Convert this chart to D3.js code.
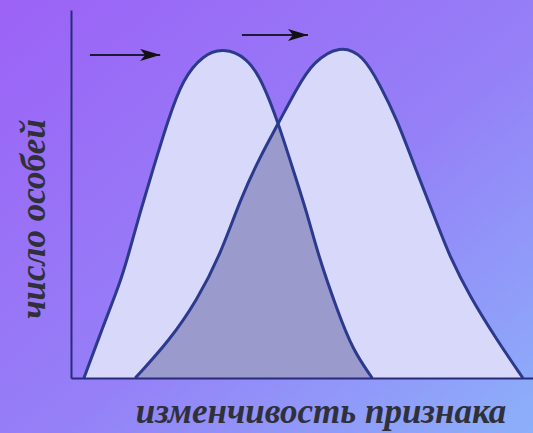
<!DOCTYPE html>
<html>
<head>
<meta charset="utf-8">
<script src="https://cdn.jsdelivr.net/npm/d3@7"></script>
<style>
  html, body { margin: 0; padding: 0; background: #9a70f7; }
  svg { display: block; }
</style>
</head>
<body>
<script>
// Two trait distributions: the original population and the shifted one.
const curveBefore = [
  [2.8, 0], [6.9, 13.9], [10.6, 25.8], [12.3, 32.9], [14.9, 44.8], [17.7, 56.5],
  [21.0, 70.1], [24.2, 81.3], [28.6, 87.8], [32.9, 89.7], [38.1, 87.2], [41.6, 80.2],
  [45.0, 68.8], [48.1, 56.5], [51.1, 44.8], [53.5, 33.4], [57.6, 18.5], [61.0, 7.6], [65.2, 0]
];
const curveAfter = [
  [13.9, 0], [21.4, 10.3], [27.3, 21.2], [32.3, 33.4], [36.6, 48.4], [40.9, 60.1],
  [44.8, 69.0], [48.9, 78.8], [52.4, 85.9], [58.2, 90.5], [63.2, 87.8], [66.9, 79.6],
  [70.6, 70.1], [74.0, 58.7], [79.2, 42.1], [82.0, 32.9], [86.4, 22.0], [92.2, 10.3], [97.8, 0]
];
// Shift arrows: [xFrom, xTo, y]
const shiftArrows = [
  [4.1, 19.3, 87.8],
  [37.0, 51.3, 93.2]
];
const xLabel = "изменчивость признака";
const yLabel = "число особей";

const W = 533, H = 433;
const svg = d3.select("body").append("svg").attr("width", W).attr("height", H);
const defs = svg.append("defs");

const bg = defs.append("linearGradient").attr("id", "bg")
  .attr("x1", 0).attr("y1", 0).attr("x2", 1).attr("y2", 1);
bg.append("stop").attr("offset", "0%").attr("stop-color", "#9c62f6");
bg.append("stop").attr("offset", "55%").attr("stop-color", "#9580f7");
bg.append("stop").attr("offset", "100%").attr("stop-color", "#8cb0fa");
svg.append("rect").attr("width", W).attr("height", H).attr("fill", "url(#bg)");

const x = d3.scaleLinear().domain([0, 100]).range([71, 533]);
const y = d3.scaleLinear().domain([0, 100]).range([378, 10]);

// B-spline through the sampled outline gives the smooth bell shape
const smooth = d3.curveBasis;
const area = d3.area().x(d => x(d[0])).y0(y(0)).y1(d => y(d[1])).curve(smooth);
const line = d3.line().x(d => x(d[0])).y(d => y(d[1])).curve(smooth);

// Overlap is the "after" area clipped by the "before" area
defs.append("clipPath").attr("id", "clipBefore")
  .append("path").attr("d", area(curveBefore));

const lightFill = "#d8d8fb";
svg.append("path").attr("d", area(curveBefore)).attr("fill", lightFill);
svg.append("path").attr("d", area(curveAfter)).attr("fill", lightFill);
svg.append("path").attr("d", area(curveAfter)).attr("fill", "#9a9acc")
  .attr("clip-path", "url(#clipBefore)");

[curveBefore, curveAfter].forEach(c => {
  svg.append("path").attr("d", line(c)).attr("fill", "none")
    .attr("stroke", "#2c3a8e").attr("stroke-width", 3).attr("stroke-linejoin", "round");
});

// Axes without ticks
const axisColor = "#2a2a7c";
const gx = svg.append("g").attr("transform", `translate(0,${y(0)})`)
  .call(d3.axisBottom(x).tickValues([]).tickSizeOuter(0));
const gy = svg.append("g").attr("transform", `translate(${x(0)},0)`)
  .call(d3.axisLeft(y).tickValues([]).tickSizeOuter(0));
[gx, gy].forEach(g => g.select(".domain").attr("stroke", axisColor).attr("stroke-width", 2));

// Arrows
defs.append("marker").attr("id", "head")
  .attr("viewBox", "0 0 20 12").attr("refX", 20).attr("refY", 6)
  .attr("markerWidth", 20).attr("markerHeight", 12).attr("markerUnits", "userSpaceOnUse")
  .attr("orient", "auto")
  .append("path").attr("d", "M0,0 L20,6 L0,12 L5,6 Z").attr("fill", "#111");
svg.selectAll("line.arrow").data(shiftArrows).join("line").attr("class", "arrow")
  .attr("x1", d => x(d[0])).attr("x2", d => x(d[1]))
  .attr("y1", d => y(d[2])).attr("y2", d => y(d[2]))
  .attr("stroke", "#1a1a3a").attr("stroke-width", 2)
  .attr("marker-end", "url(#head)");

// Axis titles
const font = "'Liberation Serif', 'DejaVu Serif', serif";
svg.append("text").text(xLabel)
  .attr("x", 321).attr("y", 423).attr("text-anchor", "middle")
  .attr("font-family", font).attr("font-style", "italic").attr("font-weight", "bold")
  .attr("font-size", 35).attr("fill", "#30303a");
svg.append("text").text(yLabel)
  .attr("transform", "translate(45,219) rotate(-90)").attr("text-anchor", "middle")
  .attr("font-family", font).attr("font-style", "italic").attr("font-weight", "bold")
  .attr("font-size", 35).attr("fill", "#30303a");
</script>
</body>
</html>
